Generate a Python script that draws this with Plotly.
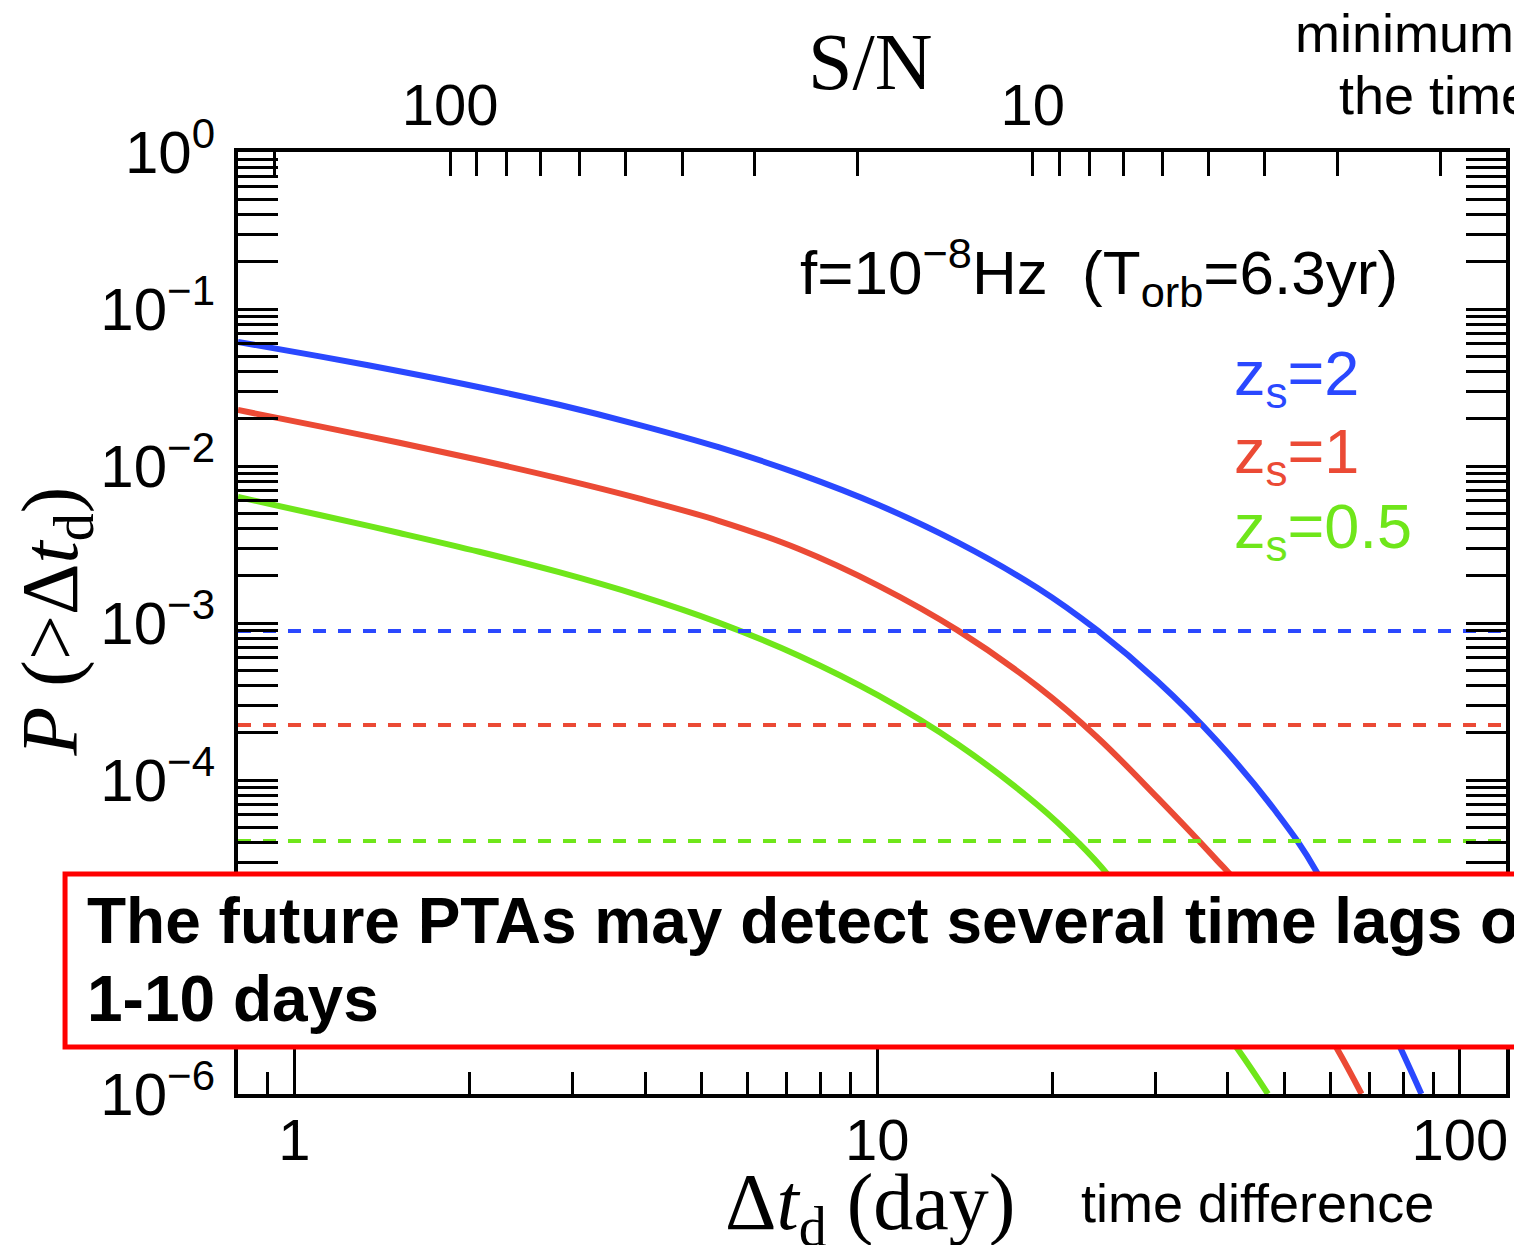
import math
import plotly.graph_objects as go

# ---------------------------------------------------------------- data
# Cumulative probability P(>Δt_d) of a lensing time delay vs. delay (days)
dt_z2 = [0.800, 1.105, 1.514, 2.076, 2.845, 3.898, 5.343, 7.322, 10.04, 13.75,
         18.85, 23.88, 30.24, 38.30, 48.53, 56.80, 79.08, 85.9]
p_z2 = [0.06163, 0.04990, 0.04017, 0.03176, 0.02454, 0.01830, 0.01318, 0.008943,
        0.005661, 0.003261, 0.001671, 8.960e-4, 4.271e-4, 1.772e-4, 6.163e-5,
        2.595e-5, 1.963e-6, 1.0e-6]

dt_z1 = [0.800, 1.105, 1.514, 2.076, 2.845, 3.898, 5.343, 7.322, 10.04, 13.75,
         18.85, 23.88, 30.24, 38.30, 41.45, 61.45, 67.8]
p_z1 = [0.02273, 0.01788, 0.01405, 0.01092, 0.008338, 0.006218, 0.004478,
        0.002970, 0.001731, 8.973e-4, 3.947e-4, 1.867e-4, 7.748e-5, 3.076e-5,
        2.208e-5, 1.963e-6, 1.0e-6]

dt_z05 = [0.800, 1.105, 1.514, 2.076, 2.845, 3.898, 5.343, 7.322, 10.04, 13.75,
          18.85, 22.07, 24.84, 41.45, 46.84]
p_z05 = [0.006346, 0.004874, 0.003743, 0.002842, 0.002106, 0.001499, 0.001006,
         6.218e-4, 3.458e-4, 1.690e-4, 6.930e-5, 4.041e-5, 2.512e-5, 1.963e-6,
         1.0e-6]

# detection thresholds (dashed horizontal lines)
thr_z2, thr_z1, thr_z05 = 8.89e-4, 2.24e-4, 4.09e-5

series_labels = ["2", "1", "0.5"]

# axis ranges and tick values
dt_range = [0.8, 120.0]
p_range = [1e-6, 1.0]
sn_per_day = 185.0          # S/N = sn_per_day / Δt_d
x_major = [1, 10, 100]
x_minor = [0.9] + list(range(2, 10)) + list(range(20, 100, 10))
y_major = [1e0, 1e-1, 1e-2, 1e-3, 1e-4, 1e-6]
y_major_text = ["10<sup>0</sup>", "10<sup>\u22121</sup>", "10<sup>\u22122</sup>",
                "10<sup>\u22123</sup>", "10<sup>\u22124</sup>", "10<sup>\u22126</sup>"]
sn_major = [100, 10]
sn_minor = [200, 90, 80, 70, 60, 50, 40, 30, 20, 9, 8, 7, 6, 5, 4, 3, 2]

# ---------------------------------------------------------------- style
W, H = 1514, 1245
ML, MR, MT, MB = 238, 4, 152, 151
BLUE, RED, GREEN = "#2A48FF", "#EB4A35", "#6FE61A"
SANS = "Liberation Sans, Arial, sans-serif"
SERIF = "Liberation Serif, Times New Roman, serif"


def px(x):
    return (x - ML) / (W - ML - MR)


def py(y):
    return (H - MB - y) / (H - MT - MB)


fig = go.Figure()

for dt, p, col in [(dt_z2, p_z2, BLUE), (dt_z1, p_z1, RED), (dt_z05, p_z05, GREEN)]:
    fig.add_trace(go.Scatter(x=dt, y=p, mode="lines",
                             line=dict(color=col, width=6, shape="spline", smoothing=1.0),
                             showlegend=False, hoverinfo="skip"))

for thr, col in [(thr_z2, BLUE), (thr_z1, RED), (thr_z05, GREEN)]:
    fig.add_trace(go.Scatter(x=dt_range, y=[thr, thr], mode="lines",
                             line=dict(color=col, width=4, dash="13px,12px"),
                             showlegend=False, hoverinfo="skip"))

# S/N companion axis on top
fig.add_trace(go.Scatter(x=[sn_per_day / dt_range[0], sn_per_day / dt_range[1]],
                         y=[1e-3, 1e-3], mode="lines", line=dict(width=0),
                         opacity=0, xaxis="x2", yaxis="y", showlegend=False,
                         hoverinfo="skip"))

x_font = dict(family=SANS, size=58, color="black")
y_font = dict(family=SANS, size=60, color="black")

fig.update_layout(
    width=W, height=H,
    margin=dict(l=ML, r=MR, t=MT, b=MB),
    paper_bgcolor="white", plot_bgcolor="white",
    xaxis=dict(type="log", range=[math.log10(dt_range[0]), math.log10(dt_range[1])],
               showline=True, linecolor="black", linewidth=4, mirror=True,
               ticks="inside", ticklen=45, tickwidth=3, tickcolor="black",
               tickvals=x_major, ticktext=[str(v) for v in x_major],
               tickfont=x_font, ticklabelstandoff=-8, showgrid=False, zeroline=False,
               minor=dict(ticks="inside", ticklen=22, tickwidth=3, tickcolor="black",
                          tickvals=x_minor, showgrid=False)),
    xaxis2=dict(type="log", overlaying="x", side="top", anchor="y",
                range=[math.log10(sn_per_day / dt_range[0]),
                       math.log10(sn_per_day / dt_range[1])],
                showline=True, linecolor="black", linewidth=4,
                ticks="inside", ticklen=24, tickwidth=3, tickcolor="black",
                tickvals=sn_major, ticktext=[str(v) for v in sn_major],
                tickfont=x_font, showgrid=False, zeroline=False,
                minor=dict(ticks="inside", ticklen=24, tickwidth=3, tickcolor="black",
                           tickvals=sn_minor, showgrid=False)),
    yaxis=dict(type="log", range=[math.log10(p_range[0]), math.log10(p_range[1])],
               showline=True, linecolor="black", linewidth=4, mirror="allticks",
               ticks="inside", ticklen=40, tickwidth=3, tickcolor="black",
               tickvals=y_major, ticktext=y_major_text, tickfont=y_font,
               ticklabelstandoff=7, showgrid=False, zeroline=False,
               minor=dict(ticks="inside", ticklen=20, tickwidth=3, tickcolor="black",
                          dtick="D1", showgrid=False)),
    showlegend=False,
)

ann = []


def text(x, y, s, size, family=SANS, color="black", xanchor="left", angle=0):
    ann.append(dict(x=px(x), y=py(y), xref="paper", yref="paper", text=s,
                    showarrow=False, xanchor=xanchor, yanchor="middle",
                    textangle=angle, font=dict(family=family, size=size, color=color)))


# axis titles
text(872, 62, "S/N", 80, SERIF, xanchor="center")
text(872, 1208, "\u0394<i>t</i><sub>d</sub> (day)", 80, SERIF, xanchor="center")
text(55, 622, "<i>P</i> (>\u0394<i>t</i><sub>d</sub>)", 80, SERIF, xanchor="center", angle=-90)

# side notes
text(1082, 1203, "time difference", 54)
text(1296, 33, "minimum", 54)
text(1340, 95, "the time", 54)

# in-panel labels
text(800, 272, "f=10<sup>\u22128</sup>Hz\u00a0\u00a0(T<sub>orb</sub>=6.3yr)", 62)
for lab, col, yy in zip(series_labels, [BLUE, RED, GREEN], [378, 455, 530]):
    text(1235, yy, "z<sub>s</sub>=" + lab, 63, color=col)

# highlighted message box
fig.add_shape(type="rect", xref="paper", yref="paper",
              x0=px(64.5), x1=px(1560), y0=py(1047), y1=py(874),
              line=dict(color="#FF0000", width=5), fillcolor="white", layer="above")
text(85, 921, "<b>The future PTAs may detect several time lags of</b>", 64)
text(85, 999, "<b>1-10 days</b>", 64)

fig.update_layout(annotations=ann)
fig.write_html("out.html")
